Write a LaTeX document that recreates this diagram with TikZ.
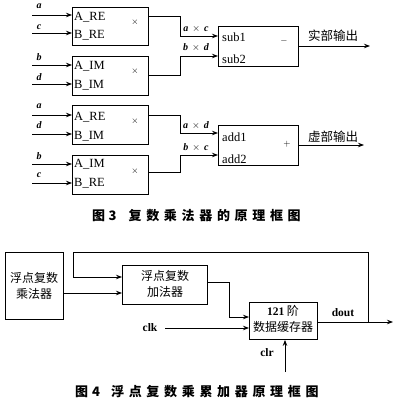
\documentclass[tikz,border=0pt]{standalone}
\usepackage{fontspec}
\setmainfont{Liberation Serif}
\newfontfamily\cjk{Noto Sans CJK SC}
\newfontfamily\capfont[LetterSpace=36]{Noto Sans CJK SC}
\usetikzlibrary{arrows.meta}
\tikzset{
 blk/.style={draw, line width=0.9pt, anchor=north west, inner sep=0pt},
 arr/.style={line width=0.9pt, -{Stealth[length=6pt,width=4.5pt]}},
 ln/.style={line width=0.9pt},
 lt/.style={font=\fontsize{12.5}{12.5}\selectfont, inner sep=0pt, anchor=west},
 var/.style={font=\fontsize{10}{10}\selectfont\itshape\bfseries, inner sep=0pt},
 mul/.style={font=\fontsize{9}{9}\selectfont, inner sep=0pt},
 cn/.style={font=\cjk\fontsize{12.5}{12.5}\selectfont, inner sep=0pt},
 cnb/.style={font=\cjk\fontsize{12}{16}\selectfont, inner sep=0pt, align=center},
 sig/.style={font=\fontsize{11.5}{11.5}\selectfont\bfseries, inner sep=0pt},
 captxt/.style={font=\capfont\bfseries\fontsize{13}{13}\selectfont, inner sep=0pt, anchor=west},
}
\begin{document}
\begin{tikzpicture}[x=1pt,y=-1pt]
\useasboundingbox (0,0) rectangle (400,404);
\fill[white] (0,0) rectangle (400,404);
% ---------- Figure 3 ----------
\node[blk, minimum width=76pt, minimum height=38pt] (m1) at (72,7) {};
\node[blk, minimum width=76pt, minimum height=39pt] (m2) at (72,56) {};
\node[blk, minimum width=76pt, minimum height=39pt] (m3) at (72,105) {};
\node[blk, minimum width=76pt, minimum height=39pt] (m4) at (72,155) {};
\node[blk, minimum width=80pt, minimum height=40pt] (sub) at (218,26) {};
\node[blk, minimum width=80pt, minimum height=40pt] (add) at (218,125) {};
% box texts
\node[lt] (t1a) at (74,17) {A\_RE};
\node[lt] (t1b) at (74,35) {B\_RE};
\node[mul] (x1) at (135,22) {$\times$};
\node[lt] (t2a) at (74,66) {A\_IM};
\node[lt] (t2b) at (74,85) {B\_IM};
\node[mul] (x2) at (135,71) {$\times$};
\node[lt] (t3a) at (74,117) {A\_RE};
\node[lt] (t3b) at (74,136) {B\_IM};
\node[mul] (x3) at (135,121) {$\times$};
\node[lt] (t4a) at (74,164) {A\_IM};
\node[lt] (t4b) at (74,183) {B\_RE};
\node[mul] (x4) at (135,171) {$\times$};
\node[lt] (s1) at (222,37) {sub1};
\node[lt] (s2) at (222,59) {sub2};
\node[mul] (mi) at (284,41) {$-$};
\node[lt] (d1) at (222,137) {add1};
\node[lt] (d2) at (222,159) {add2};
\node[mul] (pl) at (287,144) {$+$};
% inputs
\coordinate (i1) at (32,15);  \coordinate (i2) at (32,33);
\coordinate (i3) at (32,65);  \coordinate (i4) at (32,84);
\coordinate (i5) at (32,115); \coordinate (i6) at (32,134);
\coordinate (i7) at (32,164); \coordinate (i8) at (32,183);
\draw[arr] (i1) -- (i1 -| m1.west);
\draw[arr] (i2) -- (i2 -| m1.west);
\draw[arr] (i3) -- (i3 -| m2.west);
\draw[arr] (i4) -- (i4 -| m2.west);
\draw[arr] (i5) -- (i5 -| m3.west);
\draw[arr] (i6) -- (i6 -| m3.west);
\draw[arr] (i7) -- (i7 -| m4.west);
\draw[arr] (i8) -- (i8 -| m4.west);
\node[var] (v1) at (39,6) {a};
\node[var] (v2) at (39,27) {c};
\node[var] (v3) at (39,57) {b};
\node[var] (v4) at (39,77) {d};
\node[var] (v5) at (39,106) {a};
\node[var] (v6) at (39,125) {d};
\node[var] (v7) at (39,156) {b};
\node[var] (v8) at (39,175) {c};
% products to sub/add
\coordinate (o1) at (148,16);  \coordinate (k1) at (180,16);
\coordinate (o2) at (148,75);  \coordinate (k2) at (180,75);
\coordinate (o3) at (148,115); \coordinate (k3) at (180,115);
\coordinate (o4) at (148,172); \coordinate (k4) at (180,172);
\coordinate (e1) at (180,36);  \coordinate (e2) at (180,56);
\coordinate (e3) at (180,133); \coordinate (e4) at (180,155);
\draw[arr] (o1) -- (k1) -- (e1) -- (e1 -| sub.west);
\draw[arr] (o2) -- (k2) -- (e2) -- (e2 -| sub.west);
\draw[arr] (o3) -- (k3) -- (e3) -- (e3 -| add.west);
\draw[arr] (o4) -- (k4) -- (e4) -- (e4 -| add.west);
\node[var] (p1) at (196,29) {a\hspace{4pt}\normalfont\bfseries$\times$\hspace{4pt}\itshape c};
\node[var] (p2) at (196,47) {b\hspace{4pt}\normalfont\bfseries$\times$\hspace{4pt}\itshape d};
\node[var] (p3) at (196,125) {a\hspace{4pt}\normalfont\bfseries$\times$\hspace{4pt}\itshape d};
\node[var] (p4) at (196,147) {b\hspace{4pt}\normalfont\bfseries$\times$\hspace{4pt}\itshape c};
% outputs
\coordinate (out1) at (370,46);
\coordinate (out2) at (364,145);
\draw[arr] (out1 -| sub.east) -- (out1);
\draw[arr] (out2 -| add.east) -- (out2);
\node[cn] (r1) at (333,36) {实部输出};
\node[cn] (r2) at (333,137) {虚部输出};
\node[captxt] (c3) at (92,216) {图\hspace{3.5pt}3\hspace{12pt}复数乘法器的原理框图};
% ---------- Figure 4 ----------
\node[blk, minimum width=58pt, minimum height=67pt] (A) at (5,252) {};
\node[blk, minimum width=85pt, minimum height=39pt] (B) at (122,265) {};
\node[blk, minimum width=68pt, minimum height=37pt] (C) at (249,302) {};
\node[cnb] (At) at (34,286) {浮点复数\\乘法器};
\node[cnb] (Bt) at (165,284) {浮点复数\\加法器};
\node[cnb] (Ct) at (283,319) {{\normalfont\bfseries\fontsize{11.5}{11.5}\selectfont 121} 阶\\数据缓存器};
\coordinate (ab) at (63,293);
\draw[arr] (ab) -- (ab -| B.west);
\coordinate (fb) at (368,322);
\coordinate (f1) at (368,252);
\coordinate (f2) at (73,252);
\coordinate (f3) at (73,277);
\draw[ln] (fb) -- (f1) -- (f2) -- (f3);
\draw[arr] (f3) -- (f3 -| B.west);
\coordinate (bo) at (207,282);
\coordinate (b1) at (229,282);
\coordinate (b2) at (229,317);
\draw[arr] (bo) -- (b1) -- (b2) -- (b2 -| C.west);
\node[sig] (clk) at (150,328) {clk};
\coordinate (ck) at (165,328);
\draw[arr] (ck) -- (ck -| C.west);
\node[sig] (clr) at (267,353) {clr};
\coordinate (cr) at (285,372);
\draw[arr] (cr) -- (cr |- C.south);
\coordinate (dend) at (393,322);
\draw[arr] (dend -| C.east) -- (dend);
\node[sig] (dout) at (343,313) {dout};
\node[captxt] (c4) at (75,392) {图\hspace{4pt}4\hspace{11pt}浮点复数乘累加器原理框图};
\end{tikzpicture}
\end{document}
